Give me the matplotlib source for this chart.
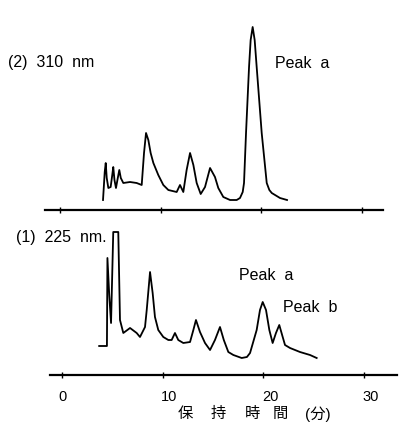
import matplotlib.pyplot as plt
import matplotlib.transforms as mtransforms

plt.rcParams['font.family'] = ['Liberation Sans', 'Noto Sans CJK JP', 'DejaVu Sans']

# (2) 310 nm trace: retention time (min) and detector response
t_310 = [4.28, 4.45, 4.55, 4.65, 4.81, 5.04, 5.20, 5.30, 5.42, 5.57, 5.75, 5.90,
         6.05, 6.30, 6.97, 7.63, 8.13, 8.36, 8.56, 8.79, 9.02, 9.29, 9.78,
         10.28, 10.78, 11.61, 11.94, 12.27, 12.60, 12.94, 13.27, 13.60, 14.00,
         14.43, 14.93, 15.42, 15.75, 16.25, 16.92, 17.58, 17.91, 18.18, 18.31,
         18.51, 18.81, 18.97, 19.17, 19.37, 19.57, 20.07, 20.57, 20.83, 21.07,
         21.89, 22.59]
r_310 = [10, 38, 47, 32, 22, 23, 35, 43, 30, 22, 32, 40,
         32, 27, 28, 27, 25, 57, 77, 70, 57, 47, 35,
         25, 20, 18, 25, 18, 40, 57, 45, 27, 16,
         23, 42, 33, 22, 13, 10, 10, 12, 18, 27,
         77, 143, 170, 183, 170, 143, 77, 27, 20, 17,
         12, 10]

# (1) 225 nm trace (flat top = recorder off scale)
t_225 = [3.70, 4.47, 4.52, 4.70, 4.88, 5.10, 5.60, 5.77, 6.10, 6.77, 7.43, 7.76,
         8.26, 8.43, 8.76, 9.02, 9.25, 9.58, 10.08, 10.58, 10.91, 11.24, 11.57,
         12.07, 12.74, 13.07, 13.33, 13.73, 14.23, 14.73, 15.22, 15.72, 16.10,
         16.55, 17.05, 17.88, 18.40, 18.71, 19.37, 19.70, 19.97, 20.30, 20.63,
         20.96, 21.29, 21.62, 21.96, 22.19, 22.69, 23.68, 24.68, 25.34]
r_225 = [29, 29, 117, 80, 52, 143, 143, 55, 42, 47, 42, 38,
         48, 65, 103, 82, 58, 45, 38, 35, 35, 42, 35,
         32, 33, 45, 55, 43, 32, 25, 35, 48, 35,
         23, 20, 17, 18, 22, 45, 65, 73, 65, 45,
         32, 42, 50, 38, 30, 27, 23, 20, 17]

ticks = [0, 10, 20, 30]
tick_labels = ['0', '10', '20', '30']
xlabel_parts = ['保', '持', '時', '間', '(分)']

W, H = 419, 434
fig = plt.figure(figsize=(W / 100, H / 100), dpi=100)


def px_axes(left, top, right, bottom):
    return fig.add_axes([left / W, 1 - bottom / H, (right - left) / W, (bottom - top) / H])


def style(ax):
    for s in ['left', 'right', 'top']:
        ax.spines[s].set_visible(False)
    ax.spines['bottom'].set_linewidth(1.6)
    ax.set_yticks([])
    ax.set_xticks(ticks)
    ax.tick_params(axis='x', direction='inout', length=5, width=1.0)
    ax.patch.set_alpha(0)


# top panel: axis line at y=210 px, t=0 at x=60 px, 10.05 px/min
ax1 = px_axes(45, 0, 383, 210)
ax1.plot(t_310, r_310, color='black', lw=1.3)
ax1.set_xlim((45 - 60) / 10.05, (383 - 60) / 10.05)
ax1.set_ylim(0, 210)
style(ax1)
ax1.set_xticklabels([])

# bottom panel: axis line at y=375 px, t=0 at x=62 px
ax2 = px_axes(50, 230, 397, 375)
ax2.plot(t_225, r_225, color='black', lw=1.3)
ax2.set_xlim((50 - 62) / 10.05, (397 - 62) / 10.05)
ax2.set_ylim(0, 145)
style(ax2)
ax2.set_xticklabels(tick_labels, fontsize=10.5)
ax2.tick_params(axis='x', pad=8)
# printed labels sit a little right of their ticks in the scan
for lab in ax2.get_xticklabels()[1:]:
    lab.set_transform(lab.get_transform() +
                      mtransforms.ScaledTranslation(0.07, 0, fig.dpi_scale_trans))


def ftext(x, y, s, **kw):
    fig.text(x / W, 1 - y / H, s, va='center', **kw)


ftext(8, 63, '(2)  310  nm', fontsize=11.5)
ftext(275, 63, 'Peak  a', fontsize=11.5)
ftext(16, 238, '(1)  225  nm.', fontsize=11.5)
ftext(239, 275, 'Peak  a', fontsize=11.5)
ftext(283, 308, 'Peak  b', fontsize=11.5)

for x, s in zip([185, 218, 252, 280, 318], xlabel_parts):
    ftext(x, 414, s, fontsize=11, ha='center')

fig.savefig('out.png', dpi=100)
